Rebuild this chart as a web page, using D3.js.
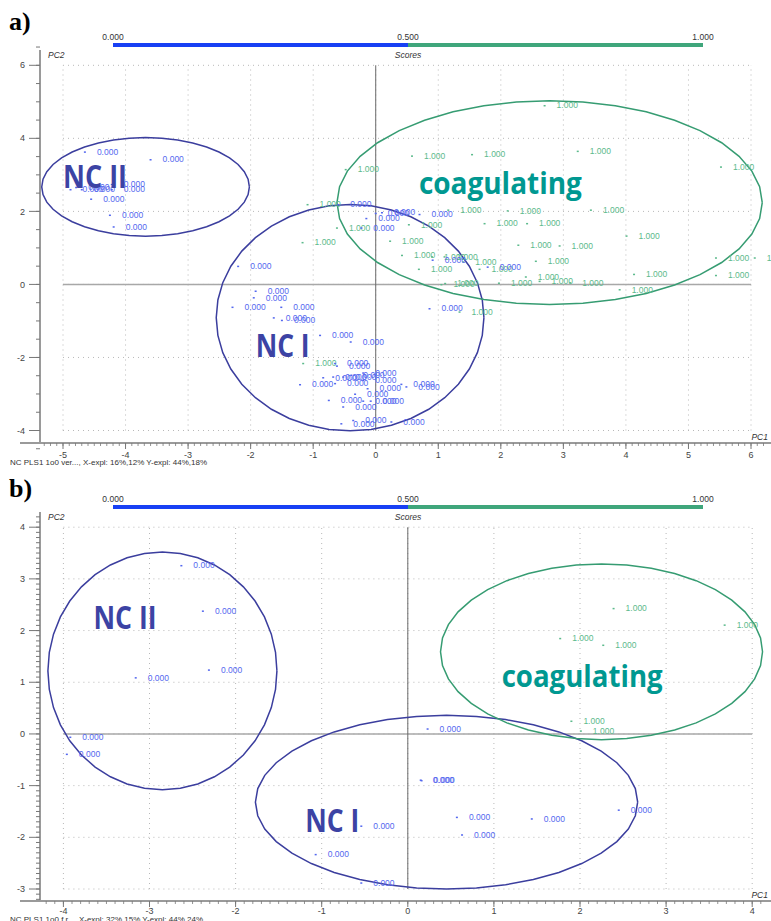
<!DOCTYPE html>
<html><head><meta charset="utf-8">
<script src="https://cdn.jsdelivr.net/npm/d3@7/dist/d3.min.js"></script>
<style>
body{margin:0;background:#fff;}
svg{display:block;font-family:"Liberation Sans",Arial,sans-serif;}
</style></head>
<body>
<svg id="chart" width="771" height="921"></svg>
<script>
// ---------- DATA ----------
// Panel a: PLS scores (PC1, PC2), class 0 = non-coagulating, class 1 = coagulating
const topClass0 = [
  [-4.65,3.63],[-3.60,3.42],[-4.88,2.60],[-4.79,2.66],[-4.70,2.60],[-4.22,2.74],[-4.22,2.60],
  [-4.55,2.34],[-4.25,1.90],[-4.19,1.58],
  [-2.20,0.50],[-1.92,-0.18],[-1.95,-0.36],[-2.29,-0.62],[-1.51,-0.62],[-1.63,-0.91],[-1.50,-0.98],
  [-0.89,-1.39],[-0.40,-1.57],[-0.65,-2.16],[-0.62,-2.23],[-0.84,-2.55],[-0.68,-2.53],[-0.52,-2.53],
  [-0.39,-2.48],[-0.20,-2.42],[-0.20,-2.62],[-1.21,-2.74],[-0.65,-2.71],[-0.13,-2.85],[0.41,-2.73],
  [0.49,-2.80],[-0.33,-3.00],[-0.75,-3.17],[-0.20,-3.19],[-0.08,-3.19],[-0.52,-3.35],[-0.55,-3.81],
  [-0.36,-3.72],[0.25,-3.76],[0.86,-0.66],
  [-0.60,2.19],[-0.15,1.81],[0.00,1.95],[0.10,1.97],[0.70,1.92],[-0.23,1.55],[0.91,0.67],[1.79,0.48]
];
const topClass1 = [
  [2.70,4.90],[0.58,3.52],[1.54,3.56],[3.23,3.65],[-0.48,3.15],[5.52,3.22],[1.16,2.04],[2.11,2.02],
  [3.44,2.04],[0.53,1.64],[1.74,1.67],[2.42,1.67],[0.23,1.19],[4.01,1.33],[2.28,1.08],[2.94,1.06],
  [0.42,0.80],[0.90,0.76],[1.10,0.76],[2.56,0.64],[1.40,0.62],[0.69,0.42],[1.66,0.42],[5.44,0.73],
  [5.44,0.25],[6.06,0.73],[4.13,0.28],[3.90,-0.14],[1.97,0.04],[1.11,0.03],[2.40,0.21],[2.62,0.09],
  [3.11,0.05],[1.05,0.00],[1.34,-0.75],[-1.09,2.19],[-0.62,1.55],[-1.17,1.15],[-1.16,-2.16]
];
// Panel b
const botClass0 = [
  [-2.63,3.26],[-2.38,2.38],[-2.31,1.24],[-3.16,1.09],[-3.92,-0.06],[-3.96,-0.39],
  [0.23,0.10],[0.15,-0.89],[0.16,-0.90],[2.45,-1.47],[0.57,-1.61],[1.44,-1.64],[0.63,-1.95],
  [-0.54,-1.78],[-1.07,-2.33],[-0.54,-2.88]
];
const botClass1 = [
  [2.39,2.43],[1.77,1.85],[2.27,1.72],[3.68,2.11],[1.90,0.25],[2.01,0.06]
];
// group ellipses: [centre PC1, centre PC2, radius PC1, radius PC2]
const topEllipses = { ncII:[-3.68,2.67,1.66,1.35], ncI:[-0.41,-0.91,2.14,3.10], coag:[2.78,2.24,3.40,2.79] };
const botEllipses = { ncII:[-2.85,1.22,1.33,2.30], ncI:[0.45,-1.32,2.22,1.68], coag:[2.25,1.59,1.87,1.70] };
// group names and their anchor (PC1, PC2)
const groupNames = ["NC II","NC I","coagulating"];
const topNameAnchors = [[-5.00,2.64],[-1.92,-1.98],[0.69,2.47]];
const botNameAnchors = [[-3.65,2.04],[-1.19,-1.89],[1.09,0.91]];
// colour-bar ticks
const colorbarTicks = [0, 0.5, 1];
// axis ticks
const topXTicks = [-5,-4,-3,-2,-1,0,1,2,3,4,5,6];
const topYTicks = [-4,-2,0,2,4,6];
const botXTicks = [-4,-3,-2,-1,0,1,2,3,4];
const botYTicks = [-3,-2,-1,0,1,2,3,4];
const footers = ["NC PLS1 1o0 ver..., X-expl: 16%,12%  Y-expl: 44%,18%",
                 "NC PLS1 1o0 f r...,   X-expl: 32%,15%  Y-expl: 44%,24%"];

// ---------- STYLE ----------
const C = {
  blueTxt:"#5468ef", greenTxt:"#5cba8c", ncLine:"#3b3e9e", coagLine:"#369c72",
  ncName:"#3c43a4", coagName:"#009891", barBlue:"#1840f4", barGreen:"#3fa67b",
  axis:"#9a9a9a", tick:"#444", grid:"#b8b8b8"
};
const svg = d3.select("#chart");

function panel(opt){
  const g = svg.append("g");
  const x = d3.scaleLinear().domain(opt.xDom).range(opt.xRange);
  const y = d3.scaleLinear().domain(opt.yDom).range(opt.yRange);

  // panel letter
  g.append("text").attr("x",9).attr("y",opt.letterY).text(opt.letter)
    .style("font-family","'Liberation Serif','Times New Roman',serif").style("font-weight","bold")
    .style("font-size","26px").attr("fill","#000");

  // colour bar
  const cb = d3.scaleLinear().domain([0,1]).range([113,703]);
  g.append("rect").attr("x",cb(0)).attr("y",opt.barY).attr("width",cb(0.5)-cb(0)).attr("height",4).attr("fill",C.barBlue);
  g.append("rect").attr("x",cb(0.5)).attr("y",opt.barY).attr("width",cb(1)-cb(0.5)).attr("height",4).attr("fill",C.barGreen);
  g.selectAll(".cbt").data(colorbarTicks).join("text").attr("x",d=>cb(d)).attr("y",opt.barY-3)
    .attr("text-anchor","middle").attr("font-size",8.5).attr("fill","#333").text(d=>d3.format(".3f")(d));
  g.append("text").attr("x",cb(0.5)).attr("y",opt.barY+15).attr("text-anchor","middle")
    .attr("font-size",8.5).attr("font-style","italic").attr("fill","#333").text("Scores");
  g.append("text").attr("x",48).attr("y",opt.barY+15)
    .attr("font-size",8.5).attr("font-style","italic").attr("fill","#333").text("PC2");

  // grid (dotted)
  g.selectAll(".gx").data(opt.xGrid).join("line")
    .attr("x1",d=>x(d)).attr("x2",d=>x(d)).attr("y1",y(opt.yDom[0])).attr("y2",y(opt.yDom[1]))
    .attr("stroke",C.grid).attr("stroke-width",1).attr("stroke-dasharray","1,4");
  g.selectAll(".gy").data(opt.yGrid).join("line")
    .attr("y1",d=>y(d)).attr("y2",d=>y(d)).attr("x1",x(opt.xDom[0])).attr("x2",x(opt.xDom[1]))
    .attr("stroke",C.grid).attr("stroke-width",1).attr("stroke-dasharray","1,4");
  // zero lines
  g.append("line").attr("x1",x(opt.xDom[0])).attr("x2",x(opt.xDom[1])).attr("y1",y(0)).attr("y2",y(0))
    .attr("stroke","#a8a8a8").attr("stroke-width",1.5);
  g.append("line").attr("x1",x(0)).attr("x2",x(0)).attr("y1",y(opt.yDom[0])).attr("y2",y(opt.yDom[1]))
    .attr("stroke","#6a6a6a").attr("stroke-width",1);

  // axes frame lines
  g.append("line").attr("x1",40).attr("x2",40).attr("y1",opt.axisTop).attr("y2",opt.axisY)
    .attr("stroke",C.axis).attr("stroke-width",2);
  g.append("line").attr("x1",20).attr("x2",771).attr("y1",opt.axisY).attr("y2",opt.axisY)
    .attr("stroke",C.axis).attr("stroke-width",2);

  // y ticks
  const yMinor = d3.range(opt.yMinorFrom, opt.yMinorTo+1e-9, opt.yMinorStep);
  g.selectAll(".ymn").data(yMinor).join("line").attr("x1",36).attr("x2",40)
    .attr("y1",d=>y(d)).attr("y2",d=>y(d)).attr("stroke","#777").attr("stroke-width",1);
  g.selectAll(".ymj").data(opt.yTicks).join("line").attr("x1",29).attr("x2",40)
    .attr("y1",d=>y(d)).attr("y2",d=>y(d)).attr("stroke","#777").attr("stroke-width",1);
  g.selectAll(".ytl").data(opt.yTicks).join("text").attr("x",25).attr("y",d=>y(d)).attr("dy","0.35em")
    .attr("text-anchor","end").attr("font-size",9).attr("fill",C.tick).text(d=>d);

  // x ticks
  const xMinor = d3.range(opt.xMinorFrom, opt.xMinorTo+1e-9, 0.1);
  g.selectAll(".xmn").data(xMinor).join("line").attr("x1",d=>x(d)).attr("x2",d=>x(d))
    .attr("y1",opt.axisY).attr("y2",opt.axisY+3).attr("stroke","#777").attr("stroke-width",0.8);
  g.selectAll(".xmj").data(opt.xTicks).join("line").attr("x1",d=>x(d)).attr("x2",d=>x(d))
    .attr("y1",opt.axisY).attr("y2",opt.axisY+6).attr("stroke","#777").attr("stroke-width",1);
  g.selectAll(".xtl").data(opt.xTicks).join("text").attr("x",d=>x(d)).attr("y",opt.axisY+opt.xLabOff)
    .attr("text-anchor","middle").attr("font-size",9).attr("fill",C.tick).text(d=>d);
  g.append("text").attr("x",768).attr("y",opt.axisY-3).attr("text-anchor","end")
    .attr("font-size",8.5).attr("font-style","italic").attr("fill","#333").text("PC1");

  // footer
  g.append("text").attr("x",10).attr("y",opt.footerY).attr("font-size",8).attr("fill","#333").text(opt.footer);

  // ellipses (polygonal as in the original software)
  const line = d3.line().x(d=>x(d[0])).y(d=>y(d[1]));
  function ell(e){ const n=40; return d3.range(n+1).map(i=>{const t=2*Math.PI*i/n;
      return [e[0]+e[2]*Math.cos(t), e[1]+e[3]*Math.sin(t)];}); }
  [["ncII",C.ncLine],["ncI",C.ncLine],["coag",C.coagLine]].forEach(([k,col])=>{
    g.append("path").attr("d",line(ell(opt.ellipses[k]))).attr("fill","none")
      .attr("stroke",col).attr("stroke-width",1.5);
  });

  // points + labels
  function pts(data, val, col){
    const gg = g.append("g");
    gg.selectAll("rect").data(data).join("rect").attr("x",d=>x(d[0])-1).attr("y",d=>y(d[1])-0.5)
      .attr("width",2).attr("height",1.5).attr("fill",col);
    gg.selectAll("text").data(data).join("text").attr("x",d=>x(d[0])+12).attr("y",d=>y(d[1]))
      .attr("dy","0.35em").attr("font-size",8.5).attr("fill",col).text(d3.format(".3f")(val));
  }
  pts(opt.c1, 1, C.greenTxt);
  pts(opt.c0, 0, C.blueTxt);

  // group names
  const nameCols = [C.ncName, C.ncName, C.coagName];
  g.selectAll(".gn").data(groupNames).join("text")
    .attr("x",(d,i)=>x(opt.names[i][0])).attr("y",(d,i)=>y(opt.names[i][1]))
    .style("font-family","'Open Sans','Noto Sans',sans-serif").style("font-weight","700")
    .style("font-size",(d,i)=>i===2?"31px":"32px").attr("fill",(d,i)=>nameCols[i])
    .attr("textLength",(d,i)=>opt.nameW[i]).attr("lengthAdjust","spacingAndGlyphs")
    .text(d=>d);
}

panel({
  letter:"a)", letterY:30, barY:43, axisTop:50, axisY:443, footerY:465, footer:footers[0], xLabOff:15,
  xDom:[-5,6], xRange:[63,751], yDom:[-4,6], yRange:[430.5,65.3],
  xTicks:topXTicks, yTicks:topYTicks, xGrid:topXTicks, yGrid:topYTicks,
  yMinorFrom:-4.5, yMinorTo:6.5, yMinorStep:0.5, xMinorFrom:-5.3, xMinorTo:6.2,
  ellipses:topEllipses, c0:topClass0, c1:topClass1, names:topNameAnchors, nameW:[64,54,163]
});
panel({
  letter:"b)", letterY:497, barY:505, axisTop:512, axisY:901, footerY:922, footer:footers[1], xLabOff:13,
  xDom:[-4,4], xRange:[63.4,752.2], yDom:[-3,4], yRange:[889,527.2],
  xTicks:botXTicks, yTicks:botYTicks, xGrid:botXTicks, yGrid:botYTicks,
  yMinorFrom:-3.2, yMinorTo:4.2, yMinorStep:0.1, xMinorFrom:-4.2, xMinorTo:4.1,
  ellipses:botEllipses, c0:botClass0, c1:botClass1, names:botNameAnchors, nameW:[63,54,161]
});
</script>
</body></html>
